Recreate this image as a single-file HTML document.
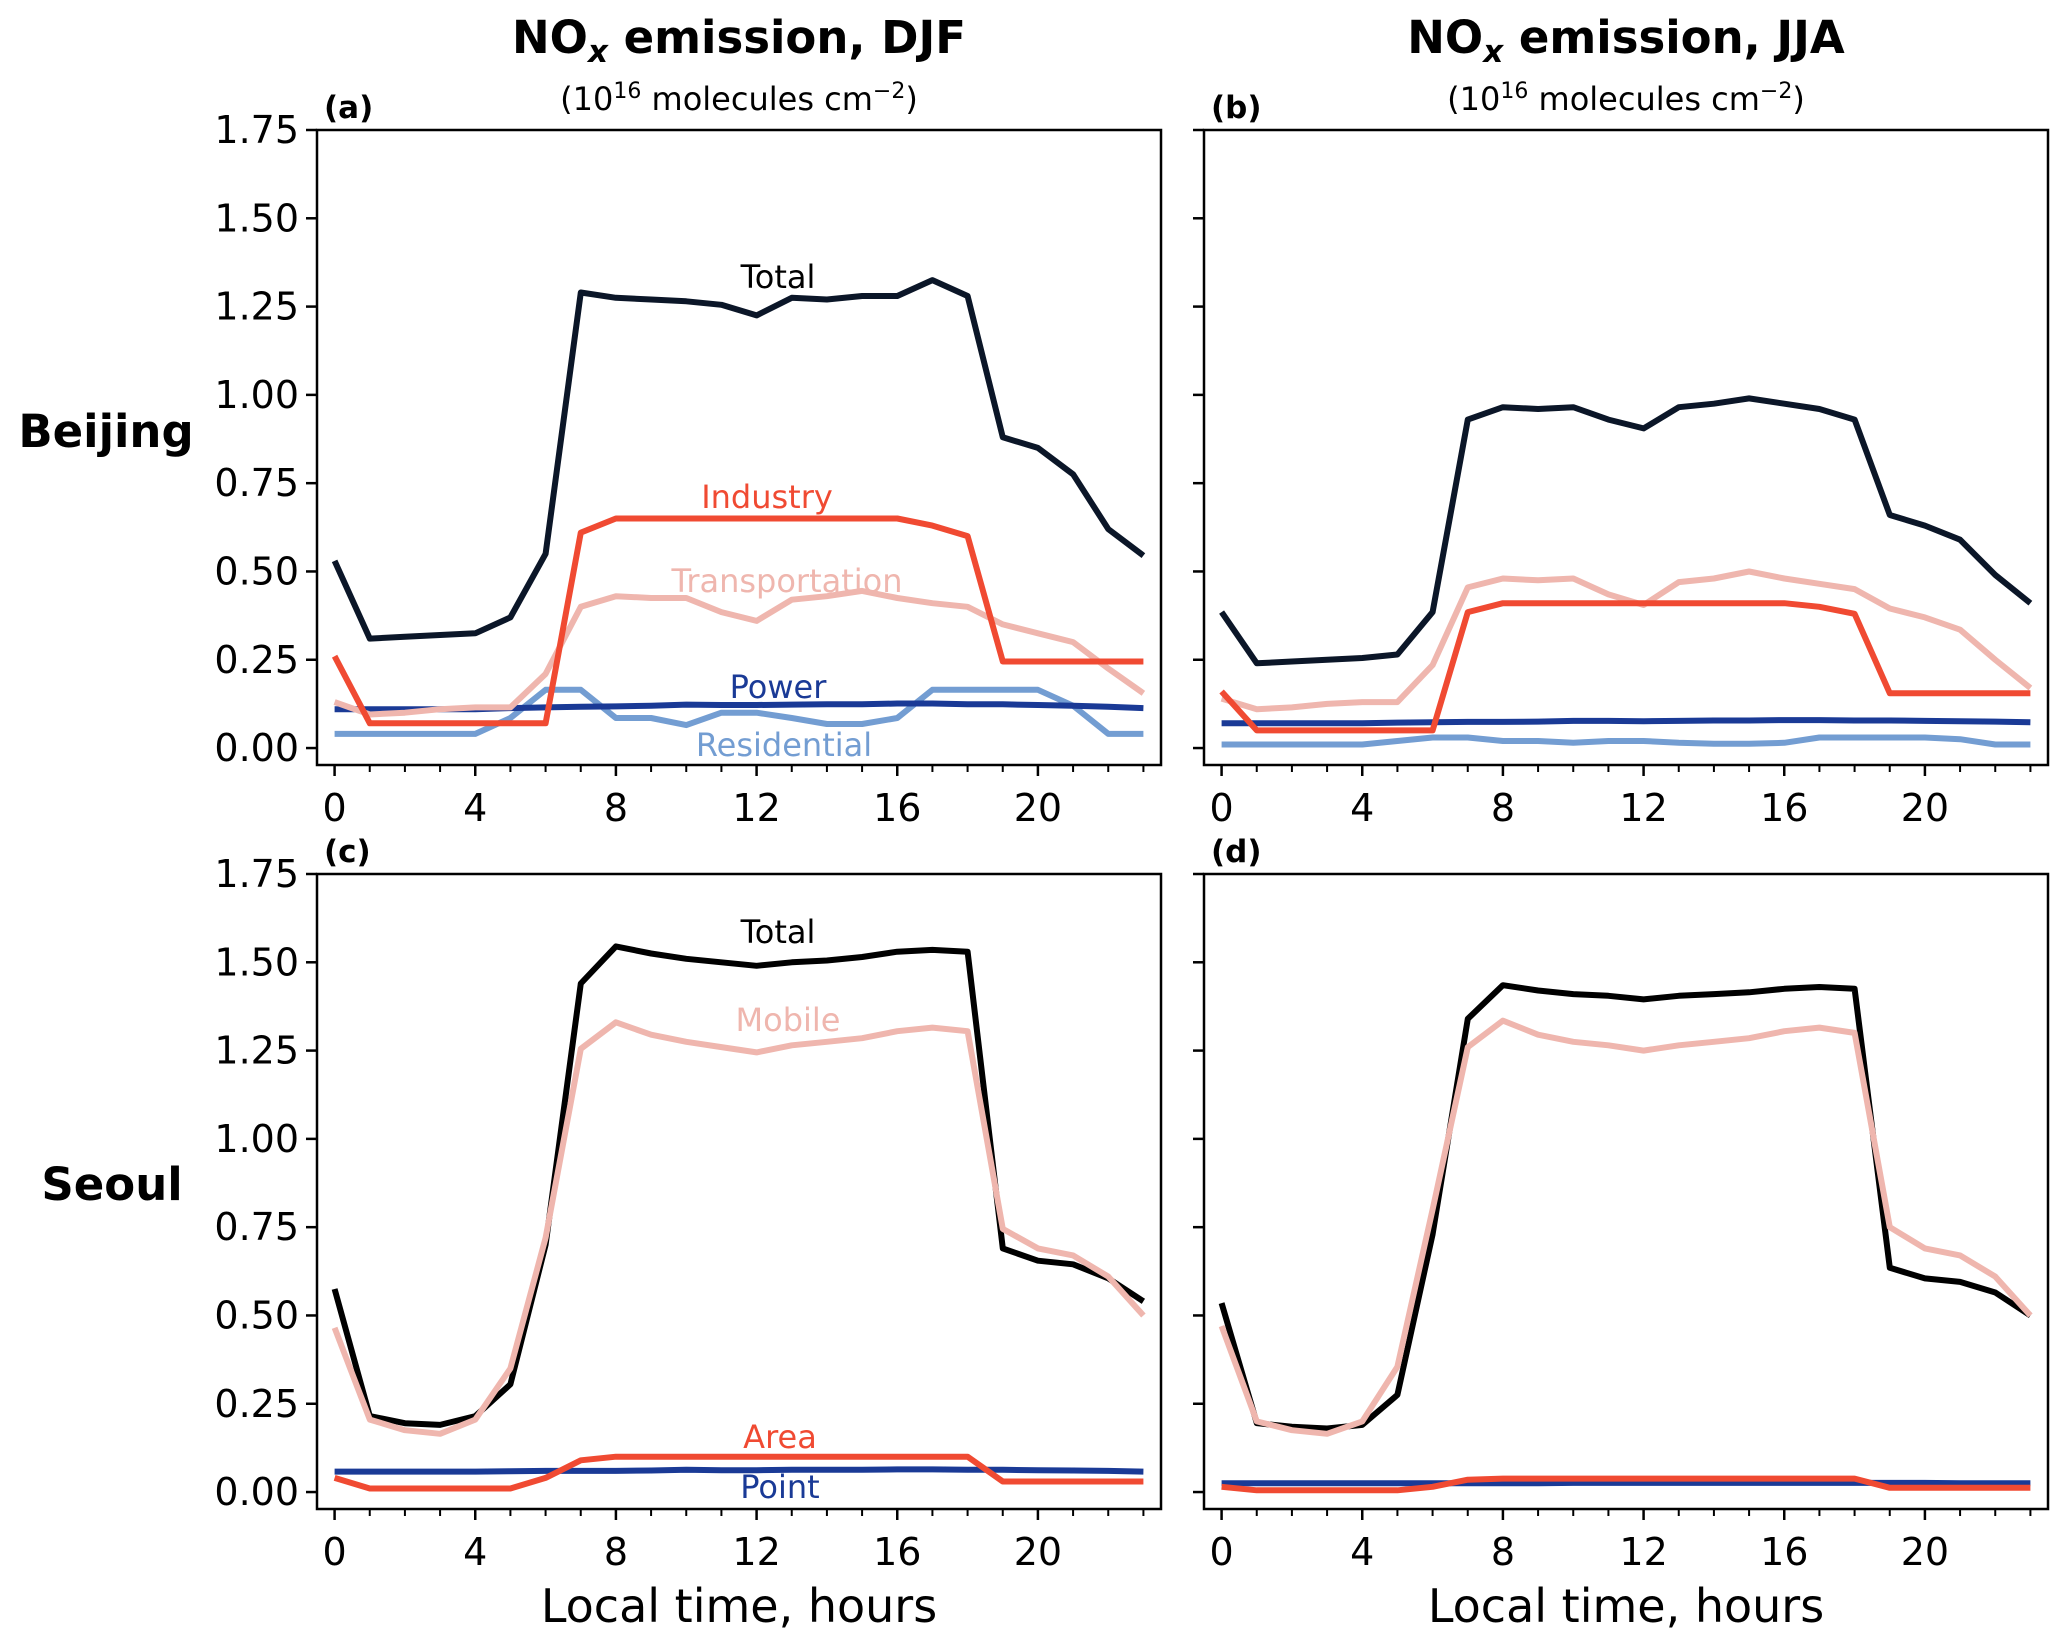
<!DOCTYPE html>
<html><head><meta charset="utf-8"><style>
body{margin:0;background:#fff}
svg{display:block;font-family:"DejaVu Sans","Liberation Sans",sans-serif}
</style></head><body>
<svg id="fig" width="2067" height="1642" viewBox="0 0 2067 1642" xmlns="http://www.w3.org/2000/svg">
<rect width="2067" height="1642" fill="#fff"/>
<text x="739" y="53" font-size="45" font-weight="bold" text-anchor="middle">NO<tspan font-style="italic" font-size="31" dy="9">x</tspan><tspan dy="-9"> emission, DJF</tspan></text>
<text x="739" y="110" font-size="32" text-anchor="middle">(10<tspan font-size="22" dy="-12">16</tspan><tspan dy="12"> molecules cm</tspan><tspan font-size="22" dy="-12">−2</tspan><tspan dy="12">)</tspan></text>
<text x="1626" y="53" font-size="45" font-weight="bold" text-anchor="middle">NO<tspan font-style="italic" font-size="31" dy="9">x</tspan><tspan dy="-9"> emission, JJA</tspan></text>
<text x="1626" y="110" font-size="32" text-anchor="middle">(10<tspan font-size="22" dy="-12">16</tspan><tspan dy="12"> molecules cm</tspan><tspan font-size="22" dy="-12">−2</tspan><tspan dy="12">)</tspan></text>
<text x="106" y="447" font-size="45" font-weight="bold" text-anchor="middle">Beijing</text>
<text x="112" y="1200" font-size="45" font-weight="bold" text-anchor="middle">Seoul</text>
<text x="739" y="1622" font-size="46" text-anchor="middle">Local time, hours</text>
<text x="1626" y="1622" font-size="46" text-anchor="middle">Local time, hours</text>
</svg>
<script>
const hours=[0,1,2,3,4,5,6,7,8,9,10,11,12,13,14,15,16,17,18,19,20,21,22,23];
const xTicks=[0,4,8,12,16,20];
const yTicks=[0,0.25,0.5,0.75,1.0,1.25,1.5,1.75];
const yTickLabels=["0.00","0.25","0.50","0.75","1.00","1.25","1.50","1.75"];
const aTotal=[0.53,0.31,0.315,0.32,0.325,0.37,0.55,1.29,1.275,1.27,1.265,1.255,1.225,1.275,1.27,1.28,1.28,1.325,1.28,0.88,0.85,0.775,0.62,0.545];
const aIndustry=[0.26,0.07,0.07,0.07,0.07,0.07,0.07,0.61,0.65,0.65,0.65,0.65,0.65,0.65,0.65,0.65,0.65,0.63,0.60,0.245,0.245,0.245,0.245,0.245];
const aTransport=[0.13,0.095,0.10,0.11,0.115,0.115,0.21,0.40,0.43,0.425,0.425,0.385,0.36,0.42,0.43,0.445,0.425,0.41,0.40,0.35,0.325,0.30,0.225,0.155];
const aPower=[0.11,0.11,0.11,0.11,0.11,0.113,0.115,0.117,0.118,0.12,0.123,0.122,0.122,0.123,0.124,0.124,0.126,0.126,0.124,0.124,0.122,0.12,0.117,0.113];
const aResidential=[0.04,0.04,0.04,0.04,0.04,0.085,0.165,0.165,0.085,0.085,0.065,0.1,0.1,0.085,0.068,0.068,0.085,0.165,0.165,0.165,0.165,0.12,0.04,0.04];
const bTotal=[0.385,0.24,0.245,0.25,0.255,0.265,0.385,0.93,0.965,0.96,0.965,0.93,0.905,0.965,0.975,0.99,0.975,0.96,0.93,0.66,0.63,0.59,0.49,0.41];
const bIndustry=[0.16,0.05,0.05,0.05,0.05,0.05,0.05,0.385,0.41,0.41,0.41,0.41,0.41,0.41,0.41,0.41,0.41,0.40,0.38,0.155,0.155,0.155,0.155,0.155];
const bTransport=[0.14,0.11,0.115,0.125,0.13,0.13,0.235,0.455,0.48,0.475,0.48,0.435,0.405,0.47,0.48,0.5,0.48,0.465,0.45,0.395,0.37,0.335,0.25,0.17];
const bPower=[0.07,0.07,0.07,0.07,0.07,0.072,0.073,0.074,0.074,0.075,0.077,0.077,0.076,0.077,0.078,0.078,0.079,0.079,0.078,0.078,0.077,0.076,0.075,0.073];
const bResidential=[0.01,0.01,0.01,0.01,0.01,0.02,0.03,0.03,0.02,0.02,0.015,0.02,0.02,0.015,0.012,0.012,0.015,0.03,0.03,0.03,0.03,0.025,0.01,0.01];
const cTotal=[0.575,0.215,0.195,0.19,0.215,0.305,0.70,1.44,1.545,1.525,1.51,1.5,1.49,1.5,1.505,1.515,1.53,1.535,1.53,0.69,0.655,0.645,0.605,0.54];
const cMobile=[0.465,0.205,0.175,0.165,0.205,0.35,0.72,1.255,1.33,1.295,1.275,1.26,1.245,1.265,1.275,1.285,1.305,1.315,1.305,0.745,0.69,0.67,0.61,0.50];
const cArea=[0.04,0.01,0.01,0.01,0.01,0.01,0.04,0.09,0.1,0.1,0.1,0.1,0.1,0.1,0.1,0.1,0.1,0.1,0.1,0.03,0.03,0.03,0.03,0.03];
const cPoint=[0.058,0.058,0.058,0.058,0.058,0.059,0.06,0.06,0.06,0.061,0.063,0.062,0.062,0.063,0.063,0.063,0.064,0.064,0.063,0.063,0.062,0.061,0.06,0.058];
const dTotal=[0.535,0.195,0.185,0.18,0.19,0.275,0.73,1.34,1.435,1.42,1.41,1.405,1.395,1.405,1.41,1.415,1.425,1.43,1.425,0.635,0.605,0.595,0.565,0.50];
const dMobile=[0.47,0.2,0.175,0.165,0.2,0.355,0.8,1.26,1.335,1.295,1.275,1.265,1.25,1.265,1.275,1.285,1.305,1.315,1.3,0.75,0.69,0.67,0.61,0.5];
const dArea=[0.015,0.005,0.005,0.005,0.005,0.005,0.015,0.035,0.038,0.038,0.038,0.038,0.038,0.038,0.038,0.038,0.038,0.038,0.038,0.012,0.012,0.012,0.012,0.012];
const dPoint=[0.025,0.025,0.025,0.025,0.025,0.025,0.025,0.025,0.025,0.025,0.026,0.026,0.026,0.026,0.026,0.026,0.026,0.026,0.026,0.026,0.026,0.025,0.025,0.025];

const NS="http://www.w3.org/2000/svg";
const svg=document.getElementById('fig');
function mk(tag,attrs,parent){const e=document.createElementNS(NS,tag);for(const k in attrs)e.setAttribute(k,attrs[k]);(parent||svg).appendChild(e);return e;}
const C={total:"#0b1628",black:"#000",ind:"#f04a32",tr:"#efb6ae",pw:"#1a3a96",res:"#739dd2"};
const panels=[
 {id:"a",x0:317,x1:1161,y0:130,y1:765,ylab:true,series:[
  [aResidential,C.res,"residential"],[aPower,C.pw,"power"],[aTransport,C.tr,"transportation"],[aIndustry,C.ind,"industry"],[aTotal,C.total,"total"]],
  labels:[["Total",778,288,"#000"],["Industry",767,508,C.ind],["Transportation",787,592,C.tr],["Power",778,698,C.pw],["Residential",784,756,C.res]]},
 {id:"b",x0:1204,x1:2048,y0:130,y1:765,ylab:false,series:[
  [bResidential,C.res,"residential"],[bPower,C.pw,"power"],[bTransport,C.tr,"transportation"],[bIndustry,C.ind,"industry"],[bTotal,C.total,"total"]],labels:[]},
 {id:"c",x0:317,x1:1161,y0:874,y1:1509,ylab:true,series:[
  [cPoint,C.pw,"point"],[cArea,C.ind,"area"],[cTotal,C.black,"total"],[cMobile,C.tr,"mobile"]],
  labels:[["Total",778,943,"#000"],["Mobile",788,1031,C.tr],["Area",780,1448,C.ind],["Point",780,1498,C.pw]]},
 {id:"d",x0:1204,x1:2048,y0:874,y1:1509,ylab:false,series:[
  [dPoint,C.pw,"point"],[dArea,C.ind,"area"],[dTotal,C.black,"total"],[dMobile,C.tr,"mobile"]],labels:[]}
];
panels.forEach(p=>{
 const g=mk('g',{});
 
 
 const xs=v=>p.x0+(v+0.5)/24*(p.x1-p.x0);
 const ys=v=>p.y1-(v+0.048)/(1.75+0.048)*(p.y1-p.y0);
 p.series.forEach(s=>{
  const d=hours.map((h,i)=>(i?'L':'M')+xs(h).toFixed(1)+' '+ys(s[0][i]).toFixed(1)).join(' ');
  const l=mk('path',{d:d,fill:'none',stroke:s[1],'stroke-width':6,'stroke-linejoin':'round'},g);
  
  
 });
 const fr=mk('rect',{x:p.x0,y:p.y0,width:p.x1-p.x0,height:p.y1-p.y0,fill:'none',stroke:'#000','stroke-width':2.5},g);
 
 
 hours.forEach(h=>{const maj=xTicks.includes(h);
  const t=mk('line',{x1:xs(h),x2:xs(h),y1:p.y1,y2:p.y1+(maj?11:7),stroke:'#000','stroke-width':maj?2.5:2},g);
  
  });
 xTicks.forEach(h=>{const t=mk('text',{x:xs(h),y:p.y1+56,'font-size':38,'text-anchor':'middle'},g);t.textContent=h;
  
  });
 yTicks.forEach((v,i)=>{const t=mk('line',{x1:p.x0-11,x2:p.x0,y1:ys(v),y2:ys(v),stroke:'#000','stroke-width':2.5},g);
  
  
  if(p.ylab){const tl=mk('text',{x:p.x0-18,y:ys(v)+13,'font-size':38,'text-anchor':'end'},g);tl.textContent=yTickLabels[i];
   
   }});
 const pl=mk('text',{x:p.x0+7,y:p.y0-12,'font-size':31,'font-weight':'bold'},g);pl.textContent='('+p.id+')';
 
 
 p.labels.forEach(L=>{const t=mk('text',{x:L[1],y:L[2],'font-size':32,'text-anchor':'middle',fill:L[3]},g);t.textContent=L[0];
  
  });
});
</script>
</body></html>
